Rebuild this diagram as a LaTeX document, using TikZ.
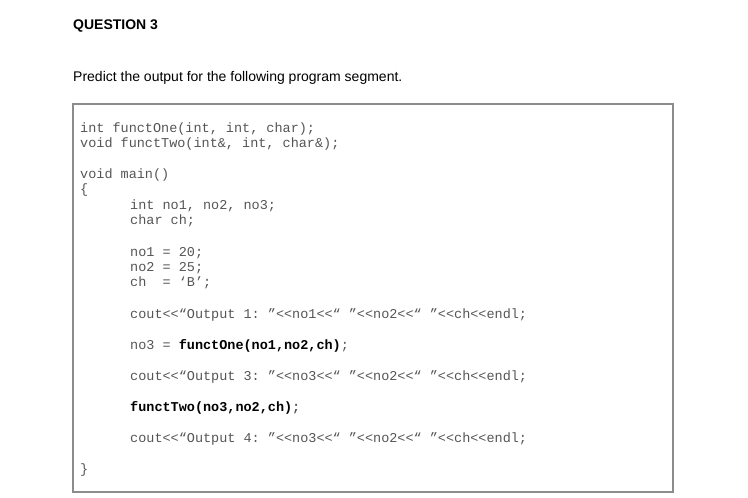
\documentclass[tikz,border=0pt]{standalone}
\usepackage{fontspec}
\setmainfont{Liberation Sans}
\setmonofont{Liberation Mono}
\definecolor{codegray}{HTML}{555555}
\tikzset{
  code/.style={anchor=west, inner sep=0pt, font=\ttfamily\fontsize{13.5}{15}\selectfont, text=codegray},
  boldcode/.style={code, text=black, font=\ttfamily\bfseries\fontsize{13.5}{15}\selectfont},
  heading/.style={anchor=west, inner sep=0pt}
}
\begin{document}
\begin{tikzpicture}[x=1pt, y=-1pt]
  \useasboundingbox (0,0) rectangle (748,498);

  \node[heading, font=\bfseries\fontsize{14}{16}\selectfont] (title) at (73,26) {QUESTION 3};
  \node[heading, font=\fontsize{14}{16}\selectfont] (task) at (73,78) {Predict the output for the following program segment.};

  \draw[draw=black!45, line width=1.2pt] (73,104) rectangle (673,492);

  \node[code] (proto1) at (80,129) {int functOne(int, int, char);};
  \node[code] (proto2) at (80,144) {void functTwo(int\&, int, char\&);};
  \node[code] (mainhead) at (80,175) {void main()};
  \node[code] (open) at (80,190) {\{};
  \node[code] (decl1) at (130,206) {int no1, no2, no3;};
  \node[code] (decl2) at (130,221) {char ch;};
  \node[code] (asg1) at (130,253) {no1 = 20;};
  \node[code] (asg2) at (130,268) {no2 = 25;};
  \node[code] (asg3) at (130,283) {ch\ \ = ‘B’;};
  \node[code] (out1) at (130,315) {cout<{}<“Output 1: ”<{}<no1<{}<“ ”<{}<no2<{}<“ ”<{}<ch<{}<endl;};
  \node[code] (call1) at (130,346) {no3 = \textbf{\textcolor{black}{functOne(no1,no2,ch)}};};
  \node[code] (out3) at (130,377) {cout<{}<“Output 3: ”<{}<no3<{}<“ ”<{}<no2<{}<“ ”<{}<ch<{}<endl;};
  \node[boldcode] (call2) at (130,408) {functTwo(no3,no2,ch)\textcolor{codegray}{;}};
  \node[code] (out4) at (130,439) {cout<{}<“Output 4: ”<{}<no3<{}<“ ”<{}<no2<{}<“ ”<{}<ch<{}<endl;};
  \node[code] (close) at (80,470) {\}};
\end{tikzpicture}
\end{document}
